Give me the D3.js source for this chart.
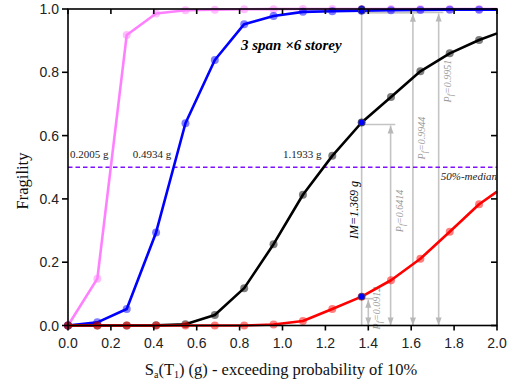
<!DOCTYPE html>
<html><head><meta charset="utf-8">
<script src="https://cdn.jsdelivr.net/npm/d3@7"></script>
<style>body{margin:0;background:#fff}</style>
</head><body><svg id="c" width="511" height="383"></svg>
<script>
// ---- data ----
const saValues = [0, 0.1369, 0.2738, 0.4107, 0.5476, 0.6845, 0.8214, 0.9583, 1.0952, 1.2321, 1.369, 1.5059, 1.6428, 1.7797, 1.9166];
const slightDamage   = [0, 0.148, 0.918, 0.986, 0.996, 0.998, 0.999, 0.9995, 1, 1, 1, 1, 1, 1, 1];
const moderateDamage = [0, 0.010, 0.052, 0.294, 0.639, 0.839, 0.952, 0.978, 0.991, 0.993, 0.9944, 0.996, 0.997, 0.998, 0.998];
const severeDamage   = [0, 0, 0, 0.0005, 0.004, 0.033, 0.118, 0.257, 0.413, 0.536, 0.6414, 0.722, 0.803, 0.860, 0.902];
const collapse       = [0, 0, 0, 0, 0, 0, 0, 0.003, 0.014, 0.052, 0.0912, 0.143, 0.211, 0.296, 0.383];
const endX = 2.0;
const endValues = [1, 0.998, 0.923, 0.423];
const medians = [0.2005, 0.4934, 1.1933];
const medianLabels = ["0.2005 g", "0.4934 g", "1.1933 g"];
const imValue = 1.369;
const pfArrows = [
  {x: 1.400, pf: 0.0912, label: "0.0912", ly: 0.055},
  {x: 1.504, pf: 0.6414, label: "0.6414", ly: 0.362},
  {x: 1.608, pf: 0.9944, label: "0.9944", ly: 0.592},
  {x: 1.728, pf: 0.9951, label: "0.9951", ly: 0.772}
];
const xTicks = [0, 0.2, 0.4, 0.6, 0.8, 1.0, 1.2, 1.4, 1.6, 1.8, 2.0];
const yTicks = [0, 0.2, 0.4, 0.6, 0.8, 1.0];

// ---- chart ----
const svg = d3.select("#c");
const L = 68, R = 497, T = 9, B = 325.5;
const x = d3.scaleLinear().domain([0, 2]).range([L, R]);
const y = d3.scaleLinear().domain([0, 1]).range([B, T]);
const serif = "'Liberation Serif','Times New Roman',serif";
const sans = "'Liberation Sans',Arial,sans-serif";
const gray = "#c4c4c4";

// gray annotation lines
const g0 = svg.append("g");
g0.append("line").attr("x1", x(imValue)).attr("x2", x(imValue)).attr("y1", y(1)).attr("y2", y(0))
  .attr("stroke", gray).attr("stroke-width", 1.6);
function arrowHead(px, py, dir) {
  const w = 3, h = 8;
  g0.append("path").attr("d", `M${px},${py} L${px - w},${py + dir * h} L${px + w},${py + dir * h} Z`).attr("fill", "#b8b8b8");
}
pfArrows.forEach(a => {
  g0.append("line").attr("x1", x(imValue)).attr("x2", x(a.x + 0.022)).attr("y1", y(a.pf) + 2).attr("y2", y(a.pf) + 2)
    .attr("stroke", gray).attr("stroke-width", 1.6);
  g0.append("line").attr("x1", x(a.x)).attr("x2", x(a.x)).attr("y1", y(a.pf) + 3).attr("y2", y(0))
    .attr("stroke", gray).attr("stroke-width", 1.6);
  arrowHead(x(a.x), y(a.pf) + 3, 1);
  arrowHead(x(a.x), y(0), -1);
  const t = g0.append("text").attr("transform", `translate(${x(a.x) + 12},${y(a.ly)}) rotate(-90)`)
    .attr("text-anchor", "middle").attr("font-family", serif).attr("font-style", "italic")
    .attr("font-size", 10).attr("fill", "#9a9a9a");
  t.append("tspan").text("P");
  t.append("tspan").attr("font-size", 8).attr("baseline-shift", "-25%").text("f");
  t.append("tspan").text("=" + a.label);
});

// median line
svg.append("line").attr("x1", x(0)).attr("x2", x(2)).attr("y1", y(0.5)).attr("y2", y(0.5))
  .attr("stroke", "#8010ff").attr("stroke-width", 1.6).attr("stroke-dasharray", "4.5,3");

// series
const series = [
  {vals: slightDamage, end: endValues[0], color: "#ff80ff"},
  {vals: moderateDamage, end: endValues[1], color: "#0000ff"},
  {vals: severeDamage, end: endValues[2], color: "#000000"},
  {vals: collapse, end: endValues[3], color: "#ff0000"}
];
const line = d3.line().x(d => x(d[0])).y(d => y(d[1])).curve(d3.curveLinear);
series.forEach(s => {
  const pts = saValues.map((v, i) => [v, s.vals[i]]);
  const linePts = pts.concat([[endX, s.end]]);
  svg.append("path").datum(linePts).attr("d", line).attr("fill", "none")
    .attr("stroke", s.color).attr("stroke-width", 2.6).attr("stroke-linejoin", "round");
  svg.append("g").selectAll("circle").data(pts).join("circle")
    .attr("cx", d => x(d[0])).attr("cy", d => y(d[1])).attr("r", 4)
    .attr("fill", s.color).attr("fill-opacity", 0.5);
});

// highlight points at IM
const imIdx = saValues.indexOf(imValue);
[slightDamage, moderateDamage, severeDamage, collapse].forEach(vals => {
  svg.append("circle").attr("cx", x(imValue)).attr("cy", y(vals[imIdx])).attr("r", 3.3)
    .attr("fill", "#0000ff").attr("stroke", "#404060").attr("stroke-width", 0.8);
});

// axes frame
const ax = svg.append("g").attr("stroke", "#000").attr("stroke-width", 1.6);
ax.append("rect").attr("x", L).attr("y", T).attr("width", R - L).attr("height", B - T).attr("fill", "none");
xTicks.forEach(t => {
  ax.append("line").attr("x1", x(t)).attr("x2", x(t)).attr("y1", B).attr("y2", B + 5);
  ax.append("line").attr("x1", x(t)).attr("x2", x(t)).attr("y1", T).attr("y2", T + 5);
});
yTicks.forEach(t => {
  ax.append("line").attr("x1", L - 6).attr("x2", L).attr("y1", y(t)).attr("y2", y(t));
  ax.append("line").attr("x1", R - 6).attr("x2", R).attr("y1", y(t)).attr("y2", y(t));
});
svg.append("g").selectAll("text").data(xTicks).join("text")
  .attr("x", d => x(d)).attr("y", 348).attr("text-anchor", "middle")
  .attr("font-family", sans).attr("font-size", 14).attr("fill", "#222").text(d => d.toFixed(1));
svg.append("g").selectAll("text").data(yTicks).join("text")
  .attr("x", 59).attr("y", d => y(d) + 5).attr("text-anchor", "end")
  .attr("font-family", sans).attr("font-size", 14).attr("fill", "#222").text(d => d.toFixed(1));

// axis titles
const xt = svg.append("text").attr("x", 281).attr("y", 375).attr("text-anchor", "middle")
  .attr("font-family", serif).attr("font-size", 16.5).attr("fill", "#111");
xt.append("tspan").text("S");
xt.append("tspan").attr("font-size", 10).attr("baseline-shift", "-30%").text("a");
xt.append("tspan").text("(T");
xt.append("tspan").attr("font-size", 10).attr("baseline-shift", "-30%").text("1");
xt.append("tspan").text(") (g) - exceeding probability of 10%");
svg.append("text").attr("transform", "translate(28,181) rotate(-90)").attr("text-anchor", "middle")
  .attr("font-family", serif).attr("font-size", 16.5).attr("fill", "#111").text("Fragility");

// labels
svg.append("g").selectAll("text").data(medians).join("text")
  .attr("x", d => x(d) - 2.5).attr("y", y(0.5) - 9).attr("text-anchor", "end")
  .attr("font-family", serif).attr("font-size", 11).attr("fill", "#222").text((d, i) => medianLabels[i]);
svg.append("text").attr("x", R).attr("y", y(0.5) + 13).attr("text-anchor", "end")
  .attr("font-family", serif).attr("font-style", "italic").attr("font-size", 11).attr("fill", "#222").text("50%-median");
svg.append("text").attr("x", 241).attr("y", 50)
  .attr("font-family", serif).attr("font-style", "italic").attr("font-weight", "bold").attr("font-size", 15)
  .attr("fill", "#000").text("3 span ×6 storey");
svg.append("text").attr("transform", `translate(${x(imValue) - 4},${y(0.365)}) rotate(-90)`).attr("text-anchor", "middle")
  .attr("font-family", serif).attr("font-style", "italic").attr("font-size", 12).attr("fill", "#000").text("IM=1.369 g");
</script></body></html>
